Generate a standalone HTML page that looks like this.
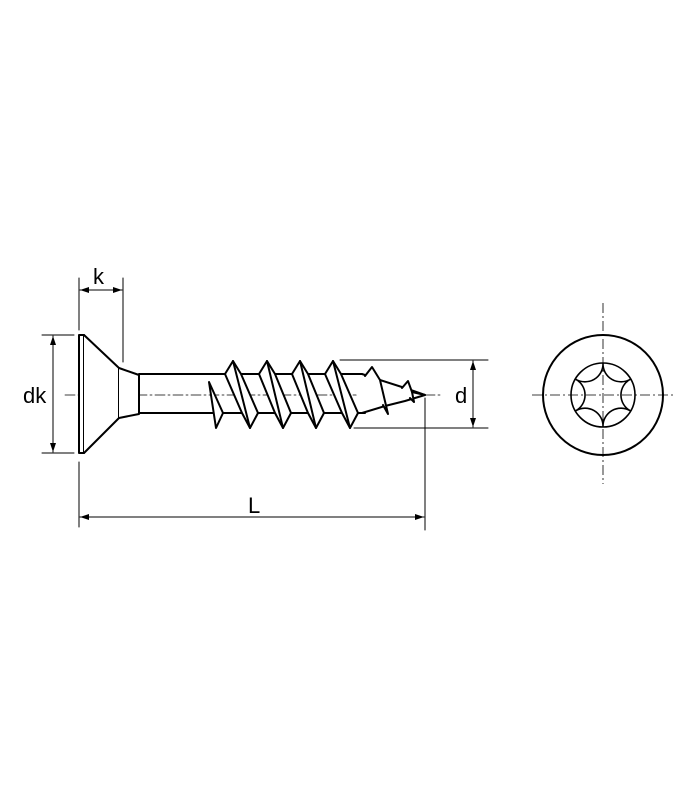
<!DOCTYPE html>
<html><head><style>html,body{margin:0;padding:0;background:#fff}svg{display:block}text{font-family:"Liberation Sans",Arial,sans-serif}</style></head>
<body>
<svg width="700" height="800" viewBox="0 0 700 800" xmlns="http://www.w3.org/2000/svg">
<g stroke="#000" fill="none" stroke-linecap="round" stroke-linejoin="round">
<line x1="65" y1="395" x2="440" y2="395" stroke-width="0.8" stroke-dasharray="10,3,2,3"/>
<g stroke-width="2" fill="#fff">
<rect x="79" y="335" width="5" height="118"/>
<path d="M84,335 L119,368 L119,418 L84,453"/>
<path d="M119,368 L139,375 L139,414 L119,418"/>
<line x1="139" y1="374" x2="360" y2="374"/>
<line x1="139" y1="413" x2="365" y2="413"/>
<path d="M350,374 L362,374 L380,380 L405,388 L425,395 L405,401 L385,406 L362,413"/>
<path d="M365,376 L372,367 L380,380 L388,414 L383,405" />
<path d="M402,388 L408,381 L412,392 L414,402 L410,398"/>
<path d="M412,392 L425,395"/>
<path d="M209,382 L216,428 L223,413 L209,382 Z"/>
</g>
<g stroke-width="2" fill="#fff">
<path d="M225,374 L233,361 L241,374 L258,413 L250,428 L242,413 Z"/><path d="M233,361 L250,428"/>
<path d="M259,374 L267,361 L275,374 L291,413 L283,428 L275,413 Z"/><path d="M267,361 L283,428"/>
<path d="M292,374 L300,361 L308,374 L324,413 L316,428 L308,413 Z"/><path d="M300,361 L316,428"/>
<path d="M325,374 L333,361 L341,374 L358,413 L350,428 L342,413 Z"/><path d="M333,361 L350,428"/>
</g>
<g stroke-width="1">
<line x1="79" y1="278" x2="79" y2="330"/>
<line x1="123" y1="278" x2="123" y2="362"/>
<line x1="80" y1="290" x2="122" y2="290"/>
<line x1="42" y1="335" x2="74" y2="335"/>
<line x1="42" y1="453" x2="74" y2="453"/>
<line x1="53" y1="336" x2="53" y2="452"/>
<line x1="340" y1="360" x2="488" y2="360"/>
<line x1="354" y1="428" x2="488" y2="428"/>
<line x1="473" y1="361" x2="473" y2="427"/>
<line x1="79" y1="462" x2="79" y2="527"/>
<line x1="425" y1="398" x2="425" y2="530"/>
<line x1="80" y1="517" x2="424" y2="517"/>
</g>
</g>
<g fill="#000">
<path d="M80,290 l9,-3 v6 z"/><path d="M122,290 l-9,-3 v6 z"/>
<path d="M53,336 l-3,9 h6 z"/><path d="M53,452 l-3,-9 h6 z"/>
<path d="M473,361 l-3,9 h6 z"/><path d="M473,427 l-3,-9 h6 z"/>
<path d="M80,517 l9,-3 v6 z"/><path d="M424,517 l-9,-3 v6 z"/>
</g>
<g font-size="22" fill="#000">
<text x="93" y="284">k</text>
<text x="23" y="403">dk</text>
<text x="455" y="403">d</text>
<text x="248" y="513">L</text>
</g>
<g stroke="#000" fill="none">
<line x1="603" y1="303" x2="603" y2="484" stroke-width="0.8" stroke-dasharray="10,3,2,3"/>
<line x1="532" y1="395" x2="675" y2="395" stroke-width="0.8" stroke-dasharray="10,3,2,3"/>
<circle cx="603" cy="395" r="60" stroke-width="2"/>
<circle cx="603" cy="395" r="32" stroke-width="1.6"/>
<path stroke-width="1.6" d="M603,363 A18,18 0 0 0 630.7,379 A18,18 0 0 0 630.7,411 A18,18 0 0 0 603,427 A18,18 0 0 0 575.3,411 A18,18 0 0 0 575.3,379 A18,18 0 0 0 603,363 Z"/>
</g>
</svg>
</body></html>
